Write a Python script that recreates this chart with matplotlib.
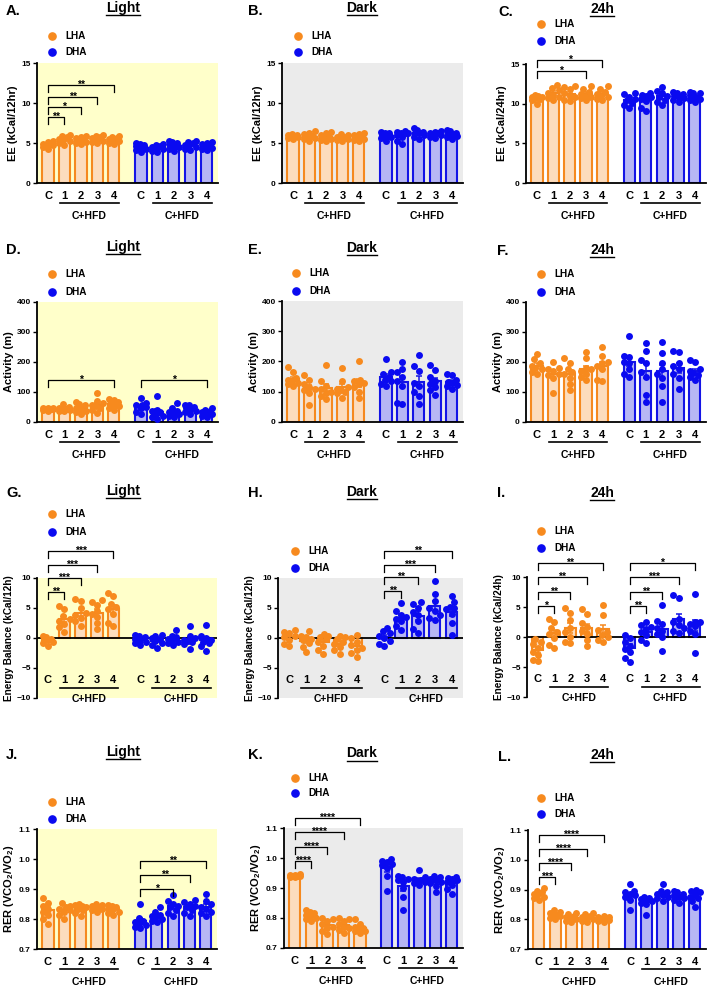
import matplotlib
matplotlib.use('Agg')
import matplotlib.pyplot as plt
import numpy as np
from matplotlib.transforms import offset_copy
from matplotlib.lines import Line2D

plt.rcParams['font.family'] = ['Liberation Sans', 'DejaVu Sans']
plt.rcParams['font.weight'] = 'bold'
plt.rcParams['mathtext.fontset'] = 'custom'
plt.rcParams['mathtext.rm'] = 'Liberation Sans:bold'
plt.rcParams['mathtext.bf'] = 'Liberation Sans:bold'

W, H = 709, 988

# ---------------- data ----------------
groups = ['C', '1', '2', '3', '4']

ee_light_lha = [[4.3, 4.5, 4.7, 4.8, 4.9, 5.0, 5.1, 5.2],
                [4.8, 5.0, 5.2, 5.4, 5.5, 5.7, 5.9, 6.0],
                [4.9, 5.0, 5.1, 5.3, 5.4, 5.6, 5.8, 5.9],
                [5.0, 5.1, 5.3, 5.4, 5.6, 5.7, 5.9, 6.0],
                [4.9, 5.0, 5.2, 5.3, 5.5, 5.6, 5.8, 5.9]]
ee_light_dha = [[3.9, 4.1, 4.3, 4.4, 4.6, 4.8, 4.9, 5.0],
                [3.9, 4.0, 4.2, 4.3, 4.5, 4.6, 4.8, 4.9],
                [4.0, 4.3, 4.5, 4.6, 4.8, 5.0, 5.1, 5.2],
                [4.1, 4.3, 4.5, 4.7, 4.8, 5.0, 5.1, 5.2],
                [4.1, 4.3, 4.4, 4.6, 4.8, 4.9, 5.0, 5.1]]

ee_dark_lha = [[5.5, 5.6, 5.7, 5.8, 5.9, 6.0, 6.0, 6.1],
               [5.3, 5.5, 5.6, 5.8, 5.9, 6.1, 6.3, 6.5],
               [5.2, 5.4, 5.5, 5.6, 5.8, 6.0, 6.3, 6.4],
               [5.3, 5.4, 5.5, 5.6, 5.7, 5.8, 6.0, 6.1],
               [5.3, 5.4, 5.5, 5.7, 5.9, 6.0, 6.1, 6.2]]
ee_dark_dha = [[5.3, 5.6, 5.8, 5.9, 6.0, 6.2, 6.3, 6.4],
               [4.9, 5.2, 5.8, 6.0, 6.2, 6.3, 6.4, 6.5],
               [5.5, 5.8, 6.0, 6.2, 6.3, 6.4, 6.6, 6.9],
               [5.6, 5.8, 6.0, 6.1, 6.2, 6.3, 6.4, 6.5],
               [5.5, 5.8, 5.9, 6.1, 6.2, 6.3, 6.5, 6.6]]

ee_24h_lha = [[9.9, 10.5, 10.6, 10.7, 10.8, 10.9, 11.0, 11.1],
              [10.4, 10.7, 10.9, 11.1, 11.4, 11.7, 12.0, 12.4],
              [10.3, 10.5, 10.8, 11.0, 11.3, 11.8, 12.1, 12.2],
              [10.5, 10.7, 10.9, 11.0, 11.2, 11.5, 11.9, 12.2],
              [10.4, 10.6, 10.8, 11.0, 11.2, 11.5, 11.8, 12.2]]
ee_24h_dha = [[9.4, 9.8, 10.1, 10.4, 10.6, 10.9, 11.2, 11.4],
              [9.1, 9.5, 10.3, 10.6, 10.8, 11.0, 11.1, 11.3],
              [9.8, 10.2, 10.5, 10.8, 11.0, 11.3, 11.6, 12.1],
              [10.2, 10.5, 10.7, 10.9, 11.0, 11.2, 11.4, 11.5],
              [10.2, 10.4, 10.6, 10.9, 11.1, 11.3, 11.4, 11.5]]

act_light_lha = [[38, 40, 42, 43, 44, 45, 47, 48],
                 [35, 37, 40, 42, 44, 46, 50, 60],
                 [25, 32, 38, 42, 48, 55, 60, 68],
                 [30, 40, 48, 52, 58, 62, 70, 95],
                 [40, 48, 52, 56, 60, 65, 72, 78]]
act_light_dha = [[25, 32, 45, 50, 55, 58, 62, 80],
                 [10, 15, 20, 28, 32, 35, 40, 88],
                 [15, 20, 25, 30, 33, 38, 45, 63],
                 [25, 32, 38, 42, 45, 50, 55, 58],
                 [15, 20, 25, 28, 32, 35, 40, 47]]

act_dark_lha = [[120, 125, 130, 135, 140, 145, 165, 182],
                [55, 95, 105, 110, 115, 125, 140, 155],
                [75, 85, 95, 100, 110, 120, 135, 187],
                [80, 95, 100, 105, 110, 115, 135, 178],
                [80, 100, 115, 125, 130, 135, 140, 203]]
act_dark_dha = [[120, 125, 135, 140, 150, 160, 165, 208],
                [58, 62, 120, 135, 150, 165, 175, 198],
                [58, 85, 100, 120, 130, 170, 185, 222],
                [90, 105, 115, 125, 135, 150, 172, 187],
                [110, 118, 122, 128, 132, 140, 155, 160]]

act_24h_lha = [[160, 165, 175, 180, 185, 195, 210, 228],
               [95, 145, 155, 160, 170, 175, 180, 200],
               [105, 125, 145, 160, 165, 175, 195, 212],
               [140, 150, 160, 170, 175, 180, 212, 232],
               [135, 140, 175, 185, 195, 200, 220, 250]]
act_24h_dha = [[150, 160, 175, 195, 200, 215, 220, 287],
               [65, 90, 150, 165, 195, 205, 235, 262],
               [65, 120, 145, 160, 175, 195, 230, 265],
               [110, 145, 160, 175, 185, 195, 232, 238],
               [140, 150, 158, 162, 170, 175, 200, 205]]

eb_light_lha = [[-1.3, -0.8, -0.6, -0.4, -0.3, -0.1, 0.1, 0.4],
                [1.0, 1.8, 2.4, 2.8, 3.2, 3.6, 4.9, 5.3],
                [2.0, 2.8, 3.4, 3.8, 4.2, 5.0, 6.2, 6.5],
                [1.5, 2.5, 3.5, 4.0, 4.5, 5.5, 6.0, 6.3],
                [2.0, 2.5, 4.0, 4.8, 5.2, 5.6, 7.0, 7.5]]
eb_light_dha = [[-1.2, -0.9, -0.6, -0.3, -0.1, 0.2, 0.3, 0.5],
                [-1.6, -1.2, -0.8, -0.5, -0.2, 0.0, 0.3, 0.5],
                [-1.1, -0.9, -0.6, -0.4, -0.2, 0.1, 0.4, 1.3],
                [-1.8, -1.0, -0.7, -0.5, -0.3, 0.0, 0.3, 2.0],
                [-2.1, -1.3, -0.9, -0.6, -0.3, 0.0, 0.3, 2.2]]

eb_dark_lha = [[-1.3, -1.0, -0.3, 0.1, 0.4, 0.8, 1.0, 1.3],
               [-2.4, -1.5, -0.8, -0.4, -0.2, 0.2, 0.4, 1.1],
               [-2.6, -2.0, -1.3, -0.6, -0.2, 0.2, 0.4, 0.6],
               [-2.6, -2.0, -1.5, -1.0, -0.6, -0.2, 0.1, 0.3],
               [-3.1, -2.5, -2.0, -1.6, -1.2, -0.7, 0.0, 0.5]]
eb_dark_dha = [[-1.3, -1.0, -0.5, 0.0, 0.4, 0.8, 1.2, 1.6],
               [1.3, 2.0, 2.8, 3.2, 3.5, 3.8, 4.5, 5.9],
               [0.8, 1.5, 2.8, 3.8, 4.4, 5.0, 5.7, 6.0],
               [3.0, 3.4, 3.8, 4.5, 5.0, 6.2, 7.3, 9.5],
               [0.5, 2.5, 4.0, 4.8, 5.0, 5.2, 6.0, 7.0]]

eb_24h_lha = [[-4.0, -3.8, -3.0, -2.5, -1.8, -1.2, -0.8, -0.3],
              [-1.9, -1.3, -0.2, 0.5, 0.8, 1.5, 2.5, 3.0],
              [-1.0, -0.8, 0.0, 0.8, 1.5, 2.8, 4.0, 4.8],
              [-1.5, -0.5, 0.5, 1.0, 1.6, 2.4, 3.8, 4.6],
              [-0.8, -0.5, 0.0, 0.4, 0.8, 1.2, 3.6, 5.4]]
eb_24h_dha = [[-4.1, -3.5, -2.5, -2.0, -1.5, -0.8, -0.2, 0.3],
              [-1.0, -0.5, 0.3, 0.8, 1.3, 1.6, 2.0, 2.5],
              [-2.3, 0.0, 0.5, 1.0, 1.5, 2.2, 2.6, 5.3],
              [0.7, 1.0, 1.5, 2.0, 2.5, 3.0, 6.5, 7.0],
              [-2.6, 0.5, 1.0, 1.8, 2.2, 2.5, 2.5, 7.1]]

rer_light_lha = [[0.785, 0.80, 0.815, 0.825, 0.835, 0.845, 0.855, 0.87],
                 [0.80, 0.815, 0.825, 0.83, 0.835, 0.84, 0.845, 0.855],
                 [0.81, 0.82, 0.83, 0.835, 0.84, 0.843, 0.847, 0.85],
                 [0.825, 0.83, 0.833, 0.836, 0.839, 0.842, 0.846, 0.85],
                 [0.815, 0.82, 0.825, 0.83, 0.835, 0.84, 0.843, 0.846]]
rer_light_dha = [[0.77, 0.775, 0.78, 0.785, 0.79, 0.795, 0.805, 0.85],
                 [0.79, 0.795, 0.80, 0.805, 0.81, 0.815, 0.825, 0.84],
                 [0.81, 0.82, 0.83, 0.84, 0.845, 0.85, 0.86, 0.88],
                 [0.81, 0.82, 0.83, 0.84, 0.845, 0.85, 0.858, 0.865],
                 [0.81, 0.82, 0.825, 0.835, 0.84, 0.85, 0.86, 0.882]]

rer_dark_lha = [[0.935, 0.937, 0.939, 0.94, 0.941, 0.942, 0.944, 0.946],
                [0.79, 0.795, 0.80, 0.805, 0.81, 0.815, 0.82, 0.825],
                [0.745, 0.755, 0.765, 0.77, 0.78, 0.79, 0.795, 0.80],
                [0.75, 0.76, 0.765, 0.77, 0.78, 0.79, 0.795, 0.80],
                [0.75, 0.755, 0.758, 0.762, 0.766, 0.77, 0.78, 0.795]]
rer_dark_dha = [[0.89, 0.94, 0.965, 0.975, 0.98, 0.985, 0.99, 0.995],
                [0.825, 0.87, 0.90, 0.92, 0.925, 0.93, 0.935, 0.94],
                [0.91, 0.915, 0.92, 0.922, 0.925, 0.93, 0.935, 0.96],
                [0.885, 0.905, 0.915, 0.92, 0.925, 0.93, 0.935, 0.94],
                [0.88, 0.895, 0.91, 0.92, 0.925, 0.93, 0.932, 0.935]]

rer_24h_lha = [[0.865, 0.87, 0.875, 0.88, 0.885, 0.89, 0.895, 0.905],
               [0.80, 0.805, 0.81, 0.812, 0.815, 0.82, 0.825, 0.83],
               [0.79, 0.795, 0.80, 0.805, 0.808, 0.812, 0.816, 0.82],
               [0.79, 0.795, 0.80, 0.805, 0.808, 0.812, 0.816, 0.82],
               [0.79, 0.793, 0.796, 0.80, 0.803, 0.806, 0.808, 0.81]]
rer_24h_dha = [[0.83, 0.865, 0.875, 0.88, 0.885, 0.89, 0.895, 0.92],
               [0.815, 0.85, 0.855, 0.86, 0.865, 0.868, 0.872, 0.875],
               [0.86, 0.87, 0.875, 0.88, 0.885, 0.89, 0.895, 0.92],
               [0.855, 0.865, 0.87, 0.875, 0.88, 0.885, 0.89, 0.895],
               [0.84, 0.86, 0.87, 0.875, 0.88, 0.89, 0.895, 0.90]]

# significance: (group 0=LHA 1=DHA, target index, height, stars)
sig_a = [(0, 1, 8.25, '**'), (0, 2, 9.5, '*'), (0, 3, 10.75, '**'), (0, 4, 12.25, '**')]
sig_c = [(0, 3, 14.1, '*'), (0, 4, 15.5, '*')]
sig_d = [(0, 4, 140, '*'), (1, 4, 140, '*')]
sig_g = [(0, 1, 7.7, '**'), (0, 2, 10.0, '***'), (0, 3, 12.2, '***'), (0, 4, 14.5, '***')]
sig_h = [(1, 1, 7.8, '**'), (1, 2, 10.2, '**'), (1, 3, 12.2, '***'), (1, 4, 14.5, '**')]
sig_i = [(0, 1, 5.2, '*'), (0, 2, 7.5, '**'), (0, 3, 10.0, '**'), (0, 4, 12.3, '**'),
         (1, 1, 5.2, '**'), (1, 2, 7.5, '**'), (1, 3, 10.0, '***'), (1, 4, 12.3, '*')]
sig_j = [(1, 2, 0.900, '*'), (1, 3, 0.947, '**'), (1, 4, 0.993, '**')]
sig_k = [(0, 1, 0.990, '****'), (0, 2, 1.037, '****'), (0, 3, 1.087, '****'), (0, 4, 1.133, '****')]
sig_l = [(0, 1, 0.943, '***'), (0, 2, 0.990, '****'), (0, 3, 1.037, '****'), (0, 4, 1.083, '****')]

# ---------------- style ----------------
YELLOW = '#FFFFCA'
GRAY = '#EBEBEB'
ORANGE = '#F5891F'
ORANGE_FILL = '#FCDCBD'
BLUE = '#1414E6'
BLUE_FILL = '#B6B6F4'
ORANGE_DOT = '#F78A1E'
BLUE_DOT = '#0A0AF0'

lha_x = np.arange(5)
dha_x = np.arange(5) + 5.65
XLIM = (-0.67, 10.33)

rer_label = r'RER (VCO$_\mathbf{2}$/VO$_\mathbf{2}$)'

panels = [
    dict(letter='A.', title='Light', lha=ee_light_lha, dha=ee_light_dha, ylim=(0, 15), yticks=[0, 5, 10, 15],
         ylabel='EE (kCal/12hr)', bg=YELLOW, box=(37, 63, 218, 183), sig=sig_a,
         leg=(52, 36, 52), lxy=(6, 11), txy=(123, 8)),
    dict(letter='B.', title='Dark', lha=ee_dark_lha, dha=ee_dark_dha, ylim=(0, 15), yticks=[0, 5, 10, 15],
         ylabel='EE (kCal/12hr)', bg=GRAY, box=(282, 63, 463, 183), sig=[],
         leg=(298, 36, 52), lxy=(248, 11), txy=(362, 8)),
    dict(letter='C.', title='24h', lha=ee_24h_lha, dha=ee_24h_dha, ylim=(0, 15), yticks=[0, 5, 10, 15],
         ylabel='EE (kCal/24hr)', bg='white', box=(526, 64, 706, 183), sig=sig_c,
         leg=(541, 24, 41), lxy=(498, 12), txy=(602, 9)),
    dict(letter='D.', title='Light', lha=act_light_lha, dha=act_light_dha, ylim=(0, 400),
         yticks=[0, 100, 200, 300, 400], ylabel='Activity (m)', bg=YELLOW, box=(37, 302, 218, 422), sig=sig_d,
         leg=(52, 274, 292), lxy=(6, 250), txy=(123, 247)),
    dict(letter='E.', title='Dark', lha=act_dark_lha, dha=act_dark_dha, ylim=(0, 400),
         yticks=[0, 100, 200, 300, 400], ylabel='Activity (m)', bg=GRAY, box=(282, 301, 463, 422), sig=[],
         leg=(296, 273, 291), lxy=(248, 250), txy=(362, 248)),
    dict(letter='F.', title='24h', lha=act_24h_lha, dha=act_24h_dha, ylim=(0, 400),
         yticks=[0, 100, 200, 300, 400], ylabel='Activity (m)', bg='white', box=(526, 302, 706, 422), sig=[],
         leg=(541, 274, 292), lxy=(497, 251), txy=(602, 250)),
    dict(letter='G.', title='Light', lha=eb_light_lha, dha=eb_light_dha, ylim=(-10, 10),
         yticks=[-10, -5, 0, 5, 10], ylabel='Energy Balance (kCal/12h)', bg=YELLOW, box=(37, 578, 217, 698),
         sig=sig_g, leg=(52, 514, 532), lxy=(6, 493), txy=(123, 491)),
    dict(letter='H.', title='Dark', lha=eb_dark_lha, dha=eb_dark_dha, ylim=(-10, 10),
         yticks=[-10, -5, 0, 5, 10], ylabel='Energy Balance (kCal/12h)', bg=GRAY, box=(278, 578, 463, 698),
         sig=sig_h, leg=(295, 551, 568), lxy=(248, 493), txy=(362, 492)),
    dict(letter='I.', title='24h', lha=eb_24h_lha, dha=eb_24h_dha, ylim=(-10, 10),
         yticks=[-10, -5, 0, 5, 10], ylabel='Energy Balance (kCal/24h)', bg='white', box=(527, 577, 706, 697),
         sig=sig_i, leg=(541, 531, 548), lxy=(497, 493), txy=(602, 493)),
    dict(letter='J.', title='Light', lha=rer_light_lha, dha=rer_light_dha, ylim=(0.7, 1.1),
         yticks=[0.7, 0.8, 0.9, 1.0, 1.1], ylabel=rer_label, bg=YELLOW, box=(37, 829, 217, 949), sig=sig_j,
         leg=(52, 802, 819), lxy=(6, 755), txy=(123, 752)),
    dict(letter='K.', title='Dark', lha=rer_dark_lha, dha=rer_dark_dha, ylim=(0.7, 1.1),
         yticks=[0.7, 0.8, 0.9, 1.0, 1.1], ylabel=rer_label, bg=GRAY, box=(284, 828, 463, 948), sig=sig_k,
         leg=(295, 778, 793), lxy=(248, 755), txy=(362, 753)),
    dict(letter='L.', title='24h', lha=rer_24h_lha, dha=rer_24h_dha, ylim=(0.7, 1.1),
         yticks=[0.7, 0.8, 0.9, 1.0, 1.1], ylabel=rer_label, bg='white', box=(528, 830, 706, 949), sig=sig_l,
         leg=(541, 798, 814), lxy=(498, 757), txy=(602, 755)),
]


def swarm_offsets(vals, px_per_unit, px_per_cat=16.5, dot_px=6.0):
    # simple beeswarm so dots sit side by side like in Prism
    vals = np.asarray(vals, dtype=float)
    cands = [0, -0.17, 0.17, -0.32, 0.32, -0.09, 0.09, -0.25, 0.25]
    placed = []
    offs = np.zeros(len(vals))
    for i in np.argsort(vals):
        y = vals[i] * px_per_unit
        best, bestd = 0, -1
        for c in cands:
            d = min([np.hypot((c - px) * px_per_cat, y - py) for px, py in placed], default=99)
            if d >= dot_px:
                best = c
                break
            if d > bestd:
                bestd, best = d, c
        offs[i] = best
        placed.append((best, y))
    return offs


fig = plt.figure(figsize=(W / 100, H / 100), dpi=100)
titles = []

for p in panels:
    l, t, r, b = p['box']
    ax = fig.add_axes([l / W, 1 - b / H, (r - l) / W, (b - t) / H])
    ax.set_facecolor(p['bg'])
    ymin, ymax = p['ylim']
    ppu = (b - t) / (ymax - ymin)
    ppc = (r - l) / (XLIM[1] - XLIM[0])
    eb = ymin < 0

    for xs, data, edge, fill, dot in [(lha_x, p['lha'], ORANGE, ORANGE_FILL, ORANGE_DOT),
                                      (dha_x, p['dha'], BLUE, BLUE_FILL, BLUE_DOT)]:
        means = np.array([np.mean(v) for v in data])
        sems = np.array([np.std(v, ddof=1) / np.sqrt(len(v)) for v in data])
        ax.bar(xs, means, width=0.68, color=fill, edgecolor=edge, linewidth=1.5, zorder=2)
        ax.errorbar(xs, means, yerr=sems, fmt='none', ecolor=edge, elinewidth=1.1,
                    capsize=2.5, capthick=1.1, zorder=3)
        for x, v in zip(xs, data):
            offs = swarm_offsets(v, ppu, ppc)
            ax.scatter(x + offs, v, s=25, color=dot, linewidths=0, zorder=4, clip_on=False)

    ax.set_xlim(*XLIM)
    ax.set_ylim(ymin, ymax)
    ax.set_yticks(p['yticks'])
    if ymax < 2:
        ax.set_yticklabels(['%.1f' % v for v in p['yticks']])
    ax.set_xticks([])
    ax.tick_params(axis='y', labelsize=6, width=1, length=3, pad=1.5)
    for lab in ax.get_yticklabels():
        lab.set_fontweight('bold')
    for s in ['top', 'right']:
        ax.spines[s].set_visible(False)
    ax.spines['left'].set_linewidth(1.3)
    ax.spines['bottom'].set_linewidth(1.3)
    ax.set_ylabel(p['ylabel'], fontsize=8 if not eb else 7.2, fontweight='bold', labelpad=2)

    # x labels, group underline and C+HFD
    for start in [lha_x[0], dha_x[0]]:
        ylab, yline, yhfd = -7.0, -8.4, -10.1
        for k, g in enumerate(groups):
            if eb:
                ax.text(start + k, ylab, g, ha='center', va='center', fontsize=8, fontweight='bold')
            else:
                tr = offset_copy(ax.get_xaxis_transform(), fig=fig, y=-13, units='dots')
                ax.text(start + k, 0, g, transform=tr, ha='center', va='center',
                        fontsize=8, fontweight='bold')
        if eb:
            ax.plot([start + 0.72, start + 4.3], [yline, yline], color='black', lw=1.2, clip_on=False)
            ax.text(start + 2.5, yhfd, 'C+HFD', ha='center', va='center', fontsize=7.5, fontweight='bold')
        else:
            trl = offset_copy(ax.get_xaxis_transform(), fig=fig, y=-20, units='dots')
            ax.plot([start + 0.72, start + 4.3], [0, 0], transform=trl, color='black', lw=1.2, clip_on=False)
            trh = offset_copy(ax.get_xaxis_transform(), fig=fig, y=-33, units='dots')
            ax.text(start + 2.5, 0, 'C+HFD', transform=trh, ha='center', va='center',
                    fontsize=7.5, fontweight='bold')

    if eb:
        ax.spines['bottom'].set_visible(False)
        ax.axhline(0, color='black', lw=1.3, zorder=3)

    # significance brackets
    drop = 7.0 / ppu
    for grp, tgt, h, stars in p['sig']:
        base = lha_x if grp == 0 else dha_x
        x0, x1 = base[0], base[tgt]
        ax.plot([x0, x0, x1, x1], [h - drop, h, h, h - drop], color='black', lw=0.9,
                clip_on=False, zorder=5)
        ax.annotate(stars, xy=((x0 + x1) / 2, h), xytext=(0, -2.2), textcoords='offset points',
                    ha='center', va='baseline', fontsize=7.5, fontweight='bold', annotation_clip=False)

    # legend
    lx, ly1, ly2 = p['leg']
    for yy, name, c in [(ly1, 'LHA', ORANGE_DOT), (ly2, 'DHA', BLUE_DOT)]:
        fig.add_artist(Line2D([lx / W], [1 - yy / H], marker='o', markersize=5.2, color=c, linestyle='none'))
        fig.text((lx + 13) / W, 1 - yy / H, name, ha='left', va='center', fontsize=7.2, fontweight='bold')

    # panel letter and title
    fig.text(p['lxy'][0] / W, 1 - p['lxy'][1] / H, p['letter'], ha='left', va='center',
             fontsize=10.5, fontweight='bold')
    titles.append(fig.text(p['txy'][0] / W, 1 - p['txy'][1] / H, p['title'], ha='center', va='center',
                           fontsize=10, fontweight='bold'))

# underline titles
fig.canvas.draw()
for t in titles:
    bb = t.get_window_extent()
    yy = bb.y0 - 0.5
    fig.add_artist(Line2D([bb.x0 / W, bb.x1 / W], [yy / H, yy / H], color='black', lw=1.0))

fig.savefig('out.png', dpi=100)
